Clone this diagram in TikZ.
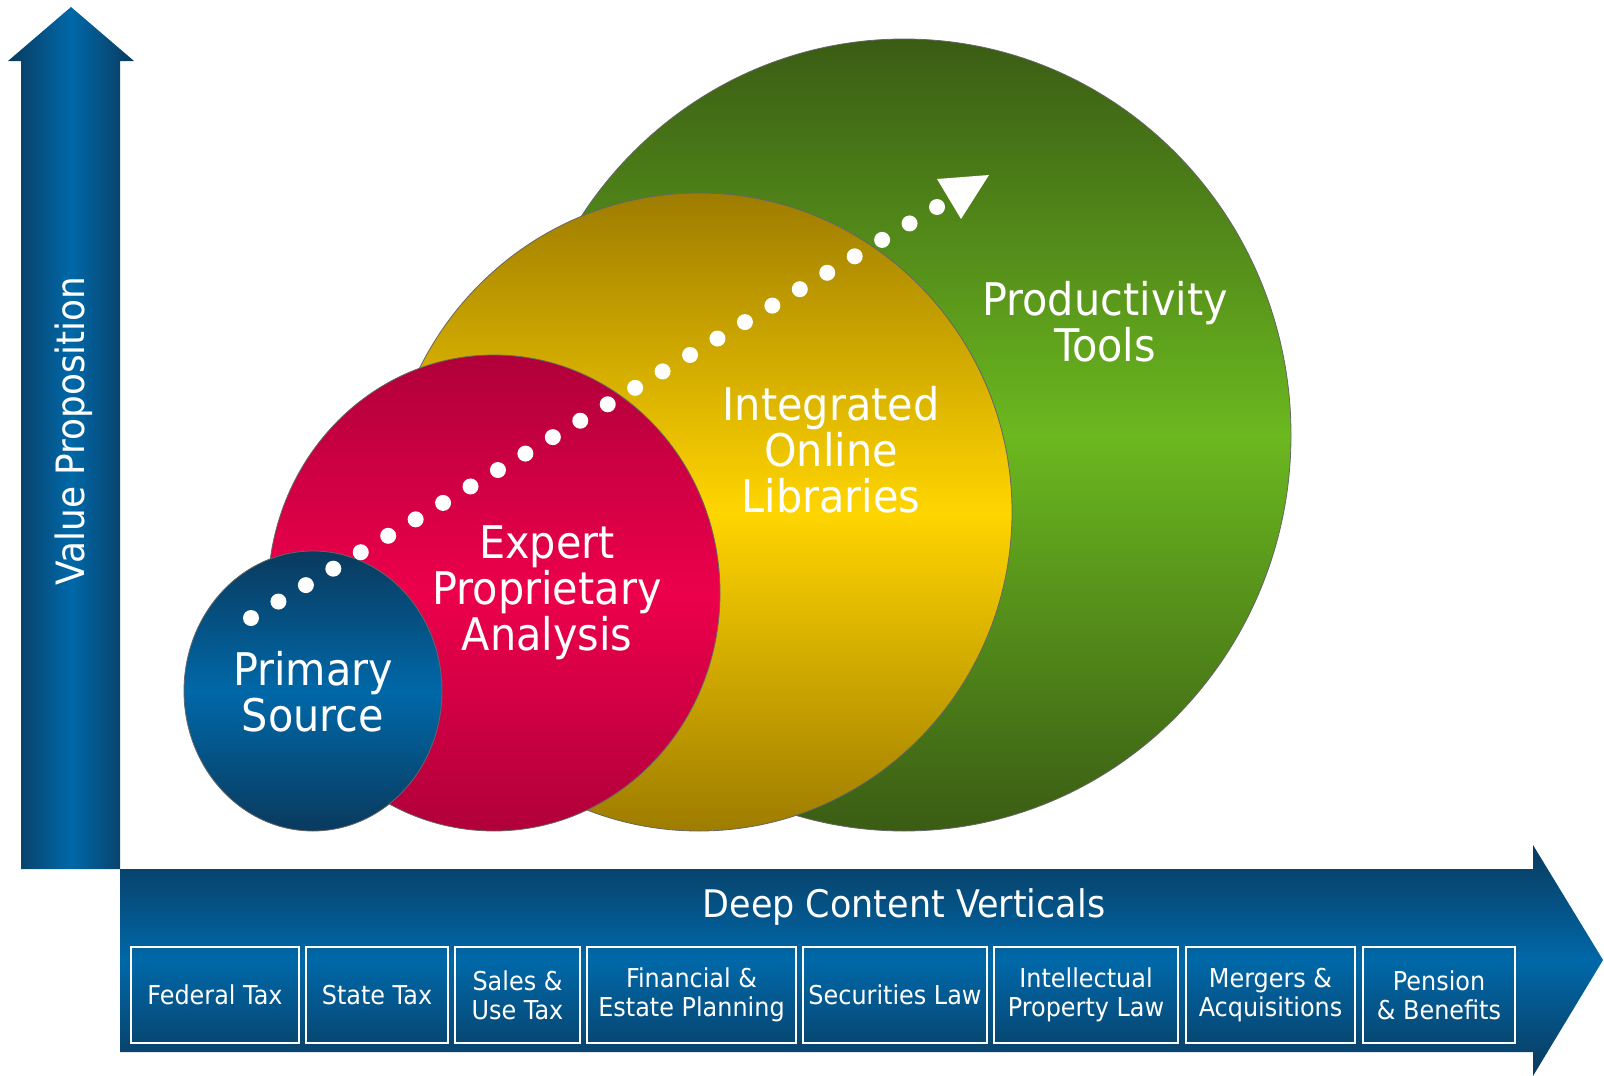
\documentclass[tikz,border=0pt]{standalone}
\usepackage{fontspec}
\setmainfont[FakeStretch=0.92]{DejaVu Sans}
\definecolor{bdark}{HTML}{0A3A5E}
\definecolor{bbright}{HTML}{0068A8}
\definecolor{gdark}{HTML}{3A5C14}
\definecolor{gbright}{HTML}{6BB81F}
\definecolor{ydark}{HTML}{9E7C00}
\definecolor{ybright}{HTML}{FFD500}
\definecolor{rdark}{HTML}{B0003A}
\definecolor{rbright}{HTML}{EC004C}
\begin{document}
\begin{tikzpicture}[x=1pt,y=-1pt,
  lbl/.style={text=white, align=center, font=\fontsize{45}{46}\selectfont},
  vert/.style={draw=white, line width=2.2pt, text=white, align=center,
    font=\fontsize{26}{29}\selectfont, inner sep=0pt, minimum height=96pt},
  bub/.style={draw=black!60, line width=0.8pt}]
\useasboundingbox (0,0) rectangle (1604,1076);
% vertical arrow
\shade[left color=bdark, right color=bdark, middle color=bbright]
  (21,869) -- (21,61) -- (8,61) -- (71,7) -- (134,61) -- (120,61) -- (120,869) -- cycle;
% horizontal arrow
\shade[top color=bdark, bottom color=bdark, middle color=bbright]
  (120,869) -- (1533,869) -- (1533,845) -- (1603,960) -- (1533,1076) -- (1533,1052) -- (120,1052) -- cycle;
% bubbles
\shadedraw[bub, top color=gdark, bottom color=gdark, middle color=gbright]
  (904,435) ellipse [x radius=387, y radius=396];
\shadedraw[bub, top color=ydark, bottom color=ydark, middle color=ybright]
  (699,512) ellipse [x radius=313, y radius=319];
\shadedraw[bub, top color=rdark, bottom color=rdark, middle color=rbright]
  (494,593) ellipse [x radius=226, y radius=238];
\shadedraw[bub, top color=bdark, bottom color=bdark, middle color=bbright]
  (313,691) ellipse [x radius=129, y radius=140];
% dotted path and head
\foreach \i in {0,...,25}
  \fill[white] ({251+27.44*\i},{618-16.44*\i}) circle[radius=8pt];
\fill[white] (937,179) -- (989,175) -- (961,219) -- cycle;
% labels
\node[lbl] (prod) at (1105,322) {Productivity\\Tools};
\node[lbl] (lib) at (831,450) {Integrated\\Online\\Libraries};
\node[lbl] (exp) at (547,593) {Expert\\Proprietary\\Analysis};
\node[lbl] (prim) at (313,692) {Primary\\Source};
\node[text=white, rotate=90, font=\fontsize{39}{40}\selectfont] (vp) at (74,431) {Value Proposition};
\node[text=white, font=\fontsize{38}{40}\selectfont] (dcv) at (904,907) {Deep Content Verticals};
% verticals
\node[vert, minimum width=168pt] (fed) at (215,995) {Federal Tax};
\node[vert, minimum width=142pt] (state) at (377,995) {State Tax};
\node[vert, minimum width=125pt] (sales) at (517.5,995) {Sales \&\\Use Tax};
\node[vert, minimum width=209pt] (fin) at (691.5,995) {Financial \&\\Estate Planning};
\node[vert, minimum width=184pt] (sec) at (895,995) {Securities Law};
\node[vert, minimum width=184pt] (ip) at (1086,995) {Intellectual\\Property Law};
\node[vert, minimum width=169pt] (ma) at (1270.5,995) {Mergers \&\\Acquisitions};
\node[vert, minimum width=152pt] (pen) at (1439,995) {Pension\\\& Benefits};
\end{tikzpicture}
\end{document}
